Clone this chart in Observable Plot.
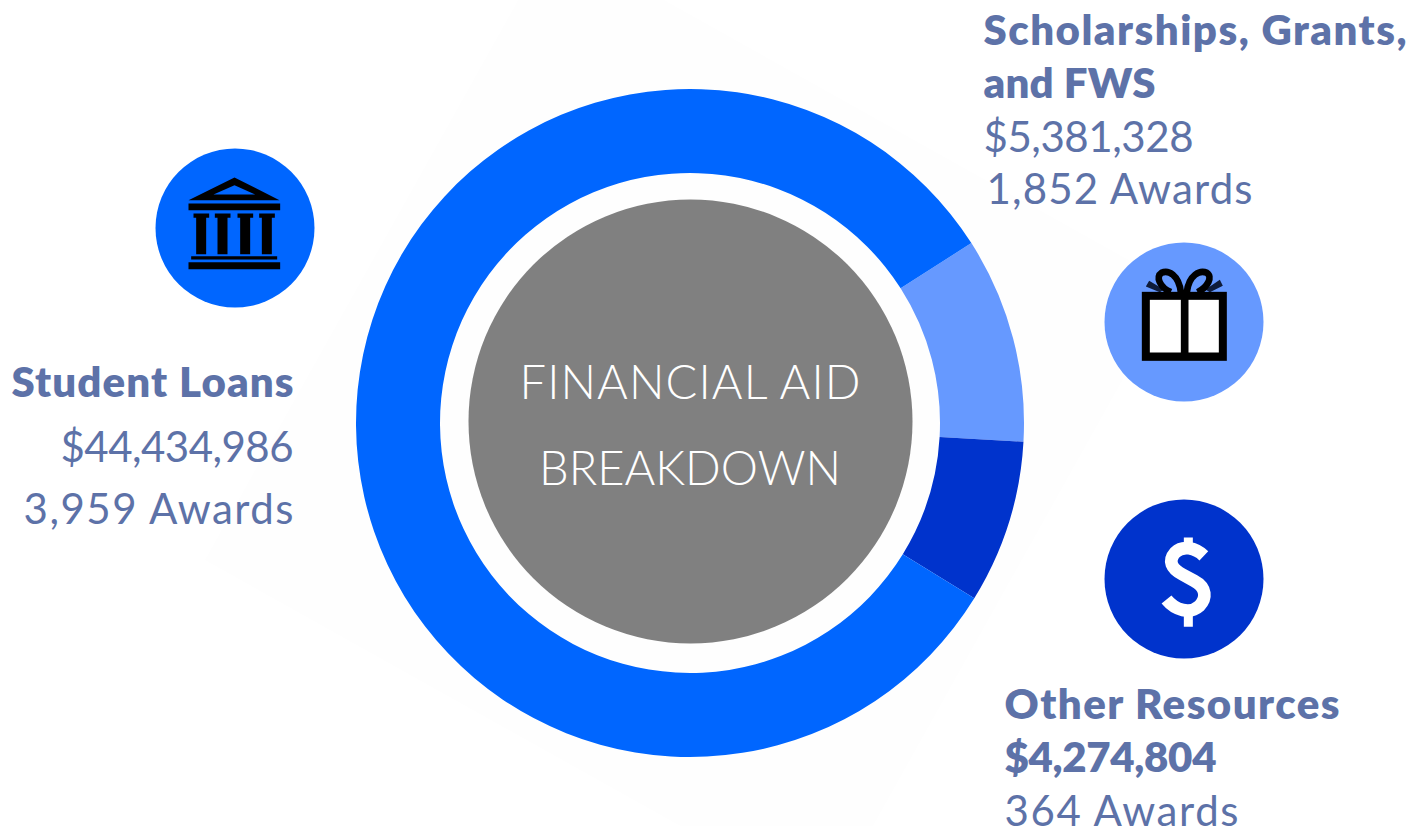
<!DOCTYPE html>
<html><head><meta charset="utf-8">
<style>html,body{margin:0;padding:0;background:#fff;overflow:hidden}svg{display:block}</style>
<script src="https://cdn.jsdelivr.net/npm/d3@7"></script>
<script src="https://cdn.jsdelivr.net/npm/@observablehq/plot@0.6"></script>
</head><body><div id="chart"></div>
<script>
// ---- data ----
const categories = ["Scholarships, Grants, and FWS", "Other Resources", "Student Loans"];
const amounts = [5381328, 4274804, 44434986];
const awards = [1852, 364, 3959];
const title = ["FINANCIAL AID", "BREAKDOWN"];

// ---- styling and layout, kept apart from the data ----
const sliceColors = ["#6699ff", "#0033cc", "#0066ff"];
const ink = "#5d72a8";
const center = {x: 690, y: 423};
const firstAngle = 57.4 * Math.PI / 180;
const money = d => "$" + d3.format(",")(d);
const count = d => d3.format(",")(d) + " Awards";
const font = "Lato, 'Open Sans', sans-serif";

const labels = [
  {t: "Scholarships, Grants,", x: 983, y: 44, a: "start", b: 1, w: 423},
  {t: "and FWS", x: 983, y: 97, a: "start", b: 1, w: 172},
  {t: money(amounts[0]), x: 983, y: 151, a: "start", b: 0, w: 210},
  {t: count(awards[0]), x: 986, y: 203, a: "start", b: 0, w: 266},
  {t: categories[2], x: 293, y: 396, a: "end", b: 1, w: 282},
  {t: money(amounts[2]), x: 293, y: 461, a: "end", b: 0, w: 233},
  {t: count(awards[2]), x: 293, y: 523, a: "end", b: 0, w: 270},
  {t: categories[1], x: 1004, y: 718, a: "start", b: 1, w: 335},
  {t: money(amounts[1]), x: 1004, y: 771, a: "start", b: 1, w: 212},
  {t: count(awards[1]), x: 1004, y: 825, a: "start", b: 0, w: 234}
];
const centerLabels = [
  {t: title[0], x: 689.5, y: 398, w: 341},
  {t: title[1], x: 689.5, y: 484, w: 302}
];
const iconDiscs = [
  {x: 234.5, y: 227.5, c: sliceColors[2]},
  {x: 1183.5, y: 321.5, c: sliceColors[0]},
  {x: 1183.5, y: 578.5, c: sliceColors[1]}
];
const backdrop = [[205, 560], [553, -62], [1175, 286], [827, 908]];

const backdropMark = (index, {x, y}) =>
  d3.create("svg:path")
    .attr("d", "M" + backdrop.map(([a, b]) => `${x(a)},${y(b)}`).join("L") + "Z")
    .attr("fill", "#fefefe").node();

const donutMark = (index, {x, y}) => {
  const g = d3.create("svg:g").attr("transform", `translate(${x(center.x)},${y(center.y)})`);
  const pie = d3.pie().sort(null).startAngle(firstAngle).endAngle(firstAngle + 2 * Math.PI)(amounts);
  const arc = d3.arc().innerRadius(250).outerRadius(334);
  g.selectAll("path").data(pie).join("path").attr("d", arc).attr("fill", (d, i) => sliceColors[i]);
  return g.node();
};

function iconGroup(x, y, disc, zx, zy) {
  return d3.create("svg:g").attr("transform",
    `translate(${x(disc.x)},${y(disc.y)}) scale(${1 / 3}) translate(${-zx},${-zy})`);
}

const bankIcon = (index, {x, y}) => {
  const g = iconGroup(x, y, iconDiscs[0], 283, 262);
  g.append("path").attr("fill", "#000").attr("d",
    "M283,112L418,180H145Z M145,190H420V210H145Z M153,348H411V358H153Z M145,366H420V387H145Z" +
    [160, 224, 292, 357].map(c => `M${c},220h47v13h-9v109h-30v-109h-8Z`).join(""));
  g.append("path").attr("fill", sliceColors[2]).attr("d", "M220,163L283,135L345,163Z");
  return g.node();
};

const giftIcon = (index, {x, y}) => {
  const g = iconGroup(x, y, iconDiscs[1], 266, 260);
  g.append("path").attr("fill", "#0f1c3a").attr("d", "M153,155L163,138L207,164L195,172Z M384,153L375,135L332,164L345,172Z");
  g.append("path").attr("fill", "none").attr("stroke", "#000").attr("stroke-width", 20).attr("d",
    "M258,172C252,120 220,104 200,114C182,125 194,157 228,172 M276,172C282,120 316,104 336,114C354,125 340,157 308,172");
  g.append("rect").attr("x", 141).attr("y", 171).attr("width", 255).attr("height", 207).attr("fill", "#000");
  g.append("rect").attr("x", 165).attr("y", 195).attr("width", 93).attr("height", 158).attr("fill", "#fff");
  g.append("rect").attr("x", 281).attr("y", 195).attr("width", 91).attr("height", 158).attr("fill", "#fff");
  return g.node();
};

const dollarIcon = (index, {x, y}) => {
  const g = iconGroup(x, y, iconDiscs[2], 265, 265);
  g.append("path").attr("fill", "none").attr("stroke", "#fff").attr("stroke-width", 38).attr("d",
    "M326,197C300,172 262,165 240,187C218,212 228,235 262,253L297,272C335,292 335,325 312,348C285,373 240,360 214,328");
  g.append("path").attr("fill", "#fff").attr("d", "M266,142H293V165H266Z M266,365H293V410H266Z");
  return g.node();
};

const labelMark = (rows, anchor, fontSize, fontWeight) =>
  Plot.text(rows.filter(d => d.a === anchor), {x: "x", y: "y", text: "t", textAnchor: anchor, lineAnchor: "bottom",
    fontSize, fontWeight, fontFamily: font, fill: ink});
const bold = labels.filter(d => d.b), plain = labels.filter(d => !d.b);

const chart = Plot.plot({
  width: 1426, height: 826,
  margin: 0,
  style: {background: "#fff"},
  x: {domain: [0, 1426], range: [0, 1426], axis: null},
  y: {domain: [0, 826], range: [0, 826], axis: null},
  marks: [
    backdropMark,
    donutMark,
    Plot.dot([center], {x: "x", y: d => d.y - 2, r: 222, fill: "#808080"}),
    Plot.dot(iconDiscs, {x: "x", y: "y", r: 79.5, fill: "c"}),
    bankIcon, giftIcon, dollarIcon,
    labelMark(bold, "start", 42, 800), labelMark(bold, "end", 42, 800),
    labelMark(plain, "start", 42, 400), labelMark(plain, "end", 42, 400),
    Plot.text(centerLabels, {x: "x", y: "y", text: "t", textAnchor: "middle", lineAnchor: "bottom",
      fontSize: 47, fontWeight: 300, fontFamily: font, fill: "#fff"})
  ]
});
// stretch each line to the width it has in the reference
const widths = new Map([...labels, ...centerLabels].map(d => [d.t, d.w]));
chart.querySelectorAll("text").forEach(node => {
  const w = widths.get(node.textContent);
  if (w) node.setAttribute("textLength", w);
});
document.getElementById("chart").append(chart);
</script></body></html>
